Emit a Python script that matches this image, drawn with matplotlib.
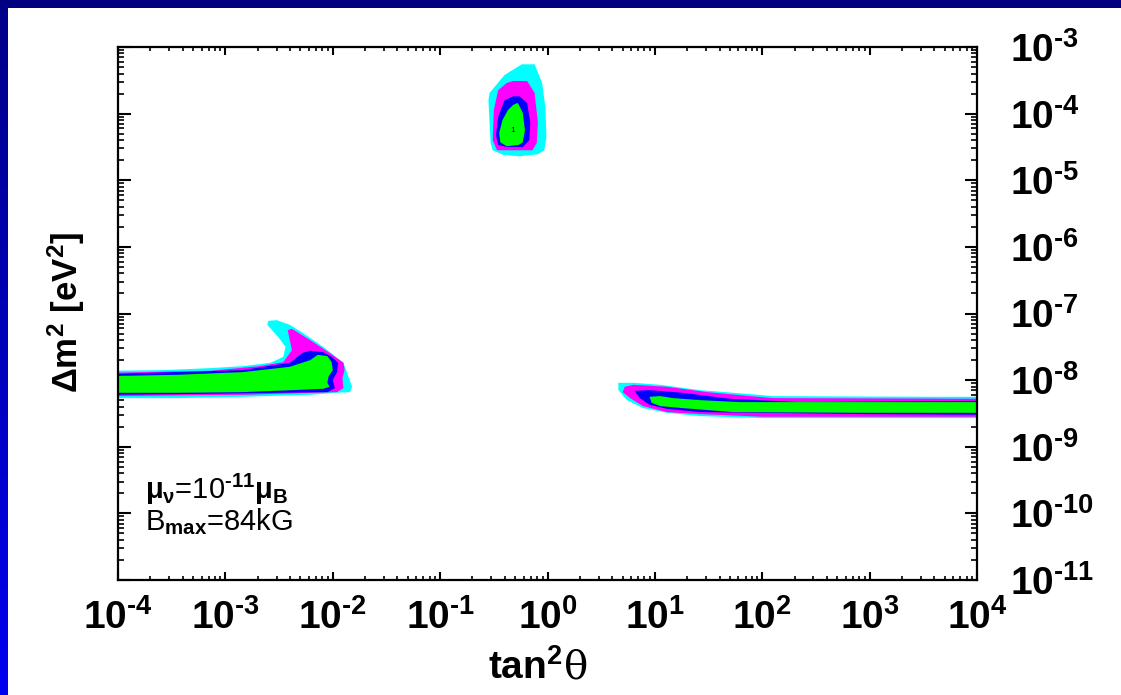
import numpy as np
import matplotlib
matplotlib.use("Agg")
import matplotlib.pyplot as plt
from matplotlib.ticker import LogLocator, FixedLocator, FixedFormatter, NullFormatter

plt.rcParams['font.family'] = ['Liberation Sans', 'DejaVu Sans']
plt.rcParams['font.weight'] = 'bold'
plt.rcParams['mathtext.fontset'] = 'custom'
plt.rcParams['mathtext.rm'] = 'Liberation Sans:bold'
plt.rcParams['mathtext.bf'] = 'Liberation Sans:bold'
plt.rcParams['mathtext.it'] = 'Liberation Sans:bold'
plt.rcParams['mathtext.sf'] = 'Liberation Sans:bold'

# ---------------- data (log10 tan^2(theta), log10 dm^2) ----------------
# Allowed regions, outermost (cyan) to innermost (green) for each solution
levels = ['cyan', 'magenta', 'blue', 'green']

# LMA-like island
island_cyan_x = [-0.24, -0.12, -0.05, -0.02, -0.01, -0.03, -0.09, -0.26, -0.41, -0.51, -0.53, -0.55, -0.54, -0.40]
island_cyan_y = [-3.26, -3.26, -3.54, -3.90, -4.35, -4.55, -4.61, -4.64, -4.62, -4.55, -4.44, -3.80, -3.69, -3.42]
island_magenta_x = [-0.32, -0.19, -0.12, -0.09, -0.10, -0.14, -0.47, -0.51, -0.50, -0.46, -0.38]
island_magenta_y = [-3.51, -3.51, -3.69, -4.13, -4.44, -4.55, -4.55, -4.40, -3.95, -3.65, -3.54]
island_blue_x = [-0.32, -0.26, -0.19, -0.16, -0.17, -0.23, -0.38, -0.46, -0.48, -0.46, -0.40]
island_blue_y = [-3.74, -3.74, -3.84, -4.14, -4.40, -4.50, -4.50, -4.47, -4.32, -4.05, -3.80]
island_green_x = [-0.28, -0.27, -0.23, -0.21, -0.23, -0.27, -0.38, -0.44, -0.45, -0.42, -0.37, -0.32]
island_green_y = [-3.84, -3.86, -3.99, -4.25, -4.43, -4.47, -4.49, -4.43, -4.29, -4.10, -3.95, -3.87]
best_fit_x = -0.32
best_fit_y = -4.26

# small-angle band (left)
left_cyan_x = [-4.1, -3.58, -3.14, -2.84, -2.58, -2.46, -2.44, -2.51, -2.61, -2.60, -2.52, -2.40, -2.28, -2.09,
               -1.90, -1.86, -1.82, -1.84, -1.96, -2.21, -2.84, -3.45, -4.1]
left_cyan_y = [-7.86, -7.85, -7.82, -7.79, -7.74, -7.65, -7.50, -7.35, -7.17, -7.11, -7.10, -7.17, -7.29, -7.50,
               -7.74, -7.92, -8.10, -8.18, -8.19, -8.22, -8.25, -8.27, -8.27]
left_magenta_x = [-4.1, -3.14, -2.68, -2.46, -2.38, -2.42, -2.38, -2.21, -2.03, -1.90, -1.89, -1.91, -1.90,
                  -1.96, -2.21, -2.84, -4.1]
left_magenta_y = [-7.89, -7.86, -7.79, -7.73, -7.55, -7.25, -7.23, -7.40, -7.59, -7.74, -7.85, -7.97, -8.12,
                  -8.18, -8.19, -8.22, -8.24]
left_blue_x = [-4.1, -2.84, -2.40, -2.28, -2.21, -2.09, -2.01, -1.95, -1.96, -2.00, -1.98, -2.05, -2.52, -3.45, -4.1]
left_blue_y = [-7.91, -7.85, -7.74, -7.59, -7.56, -7.58, -7.65, -7.74, -7.88, -8.00, -8.12, -8.18, -8.19, -8.21, -8.22]
left_green_x = [-4.1, -3.45, -2.84, -2.40, -2.21, -2.14, -2.05, -2.01, -2.00, -2.04, -2.05, -2.03, -2.09, -2.37,
                -2.84, -3.45, -4.1]
left_green_y = [-7.94, -7.92, -7.88, -7.80, -7.70, -7.62, -7.64, -7.73, -7.85, -7.95, -8.04, -8.10, -8.13, -8.15,
                -8.18, -8.19, -8.19]

# large-angle band (right)
right_cyan_x = [0.66, 0.80, 1.05, 1.42, 1.89, 2.10, 3.56, 4.1, 4.1, 2.01, 1.42, 1.11, 0.89, 0.74, 0.66]
right_cyan_y = [-8.04, -8.04, -8.07, -8.15, -8.21, -8.24, -8.25, -8.25, -8.57, -8.57, -8.54, -8.49, -8.42, -8.30, -8.15]
right_magenta_x = [0.72, 0.80, 1.11, 1.49, 1.89, 2.10, 4.1, 4.1, 2.01, 1.42, 1.11, 0.89, 0.77, 0.70]
right_magenta_y = [-8.10, -8.07, -8.10, -8.18, -8.24, -8.27, -8.28, -8.55, -8.55, -8.51, -8.48, -8.39, -8.27, -8.18]
right_blue_x = [0.81, 0.95, 1.26, 1.70, 2.35, 4.1, 4.1, 2.98, 1.98, 1.42, 1.11, 0.95, 0.86]
right_blue_y = [-8.16, -8.15, -8.19, -8.28, -8.33, -8.31, -8.52, -8.51, -8.49, -8.48, -8.43, -8.37, -8.27]
right_green_x = [0.95, 1.05, 1.17, 1.42, 1.79, 2.42, 4.1, 4.1, 2.98, 1.73, 1.26, 1.05, 0.97]
right_green_y = [-8.25, -8.24, -8.27, -8.30, -8.33, -8.33, -8.33, -8.49, -8.49, -8.48, -8.42, -8.39, -8.34]

x_tick_exps = [-4, -3, -2, -1, 0, 1, 2, 3, 4]
y_tick_exps = [-11, -10, -9, -8, -7, -6, -5, -4, -3]


def pow_label(e):
    s = str(e).replace('-', r'\text{-}')
    return r'$\mathbf{10^{%s}}$' % s


# ---------------- figure ----------------
W, H = 1121, 695
fig = plt.figure(figsize=(W / 100, H / 100), dpi=100)
fig.patch.set_facecolor('white')

# blue frame (top band + left gradient band)
top_ax = fig.add_axes([0, 1 - 8 / H, 1, 8 / H])
top_ax.set_axis_off()
top_ax.add_patch(plt.Rectangle((0, 0), 1, 1, color='#000080', transform=top_ax.transAxes))
left_ax = fig.add_axes([0, 0, 8 / W, 1 - 8 / H])
grad = np.linspace(0, 1, 256)[:, None]
left_ax.imshow(grad, aspect='auto', cmap=matplotlib.colors.LinearSegmentedColormap.from_list(
    'bl', ['#000088', '#0000f0']), extent=(0, 1, 0, 1), origin='upper')
left_ax.set_axis_off()

ax = fig.add_axes([118 / W, 1 - 580 / H, (977 - 118) / W, (580 - 47) / H])
ax.set_xscale('log')
ax.set_yscale('log')
ax.set_xlim(1e-4, 1e4)
ax.set_ylim(1e-11, 1e-3)

colors = {'cyan': '#00ffff', 'magenta': '#ff00ff', 'blue': '#0000ff', 'green': '#00ff00'}
regions = {
    'island': {'cyan': (island_cyan_x, island_cyan_y), 'magenta': (island_magenta_x, island_magenta_y),
               'blue': (island_blue_x, island_blue_y), 'green': (island_green_x, island_green_y)},
    'left': {'cyan': (left_cyan_x, left_cyan_y), 'magenta': (left_magenta_x, left_magenta_y),
             'blue': (left_blue_x, left_blue_y), 'green': (left_green_x, left_green_y)},
    'right': {'cyan': (right_cyan_x, right_cyan_y), 'magenta': (right_magenta_x, right_magenta_y),
              'blue': (right_blue_x, right_blue_y), 'green': (right_green_x, right_green_y)},
}
for name, reg in regions.items():
    for lev in levels:
        xs, ys = reg[lev]
        ax.fill(10 ** np.array(xs), 10 ** np.array(ys), color=colors[lev], lw=0, zorder=2)

ax.text(10 ** best_fit_x, 10 ** best_fit_y, '1', fontsize=6, fontweight='normal',
        ha='center', va='center', color='black', zorder=3)

# ticks
for s in ax.spines.values():
    s.set_linewidth(1.6)
ax.xaxis.set_major_locator(FixedLocator([10.0 ** e for e in x_tick_exps]))
ax.xaxis.set_major_formatter(FixedFormatter([pow_label(e) for e in x_tick_exps]))
ax.xaxis.set_minor_locator(LogLocator(base=10, subs=np.arange(2, 10), numticks=100))
ax.xaxis.set_minor_formatter(NullFormatter())
ax.yaxis.set_major_locator(FixedLocator([10.0 ** e for e in y_tick_exps]))
ax.yaxis.set_major_formatter(FixedFormatter([pow_label(e) for e in y_tick_exps]))
ax.yaxis.set_minor_locator(LogLocator(base=10, subs=np.arange(2, 10), numticks=100))
ax.yaxis.set_minor_formatter(NullFormatter())

ax.tick_params(axis='x', which='both', direction='in', top=True, bottom=True, width=1.5, labelsize=28, pad=14)
ax.tick_params(axis='x', which='major', length=6)
ax.tick_params(axis='x', which='minor', length=3, width=1.2)
ax.tick_params(axis='y', which='both', direction='in', left=True, right=True, labelleft=False,
               labelright=True, width=1.5, labelsize=28, pad=24)
ax.tick_params(axis='y', which='major', length=9)
ax.tick_params(axis='y', which='minor', length=4.5, width=1.2)

fig.text((118 + 977) / 2 / W + 0.014, 1 - 668 / H, r'tan$^{\mathbf{2}}$', fontsize=28, fontweight='bold',
         ha='right', va='center')
fig.text((118 + 977) / 2 / W + 0.015, 1 - 668 / H, 'θ', fontsize=29, fontweight='normal',
         family='DejaVu Serif', ha='left', va='center')
fig.text(66 / W, 1 - 312 / H, r'$\mathbf{\Delta m^2\ [eV^2]}$', fontsize=25, rotation=90,
         ha='center', va='center')

ax.text(0.031, 0.17, r'$\mu_{\nu}$=10$^{\text{-}11}\mu_{B}$', transform=ax.transAxes, fontsize=21,
        fontweight='normal', ha='left', va='center')
ax.text(0.031, 0.11, r'B$_{\mathrm{max}}$=84kG', transform=ax.transAxes, fontsize=21,
        fontweight='normal', ha='left', va='center')

fig.savefig('out.png', dpi=100)
